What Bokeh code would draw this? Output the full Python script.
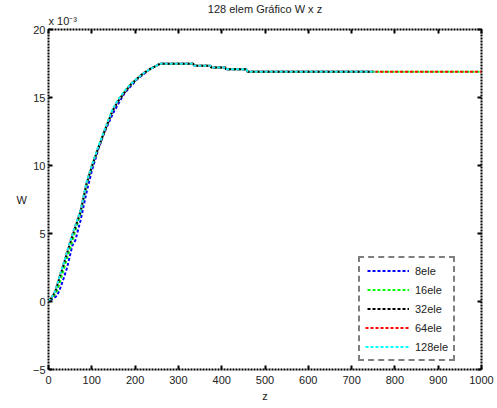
from bokeh.plotting import figure
from bokeh.models import Range1d, LinearAxis, FixedTicker, Legend, LegendItem, Title
from bokeh.embed import file_html
from bokeh.resources import INLINE

# W values are in units of 10^-3
z_8 = [0, 10, 20, 28, 36, 43, 55, 62, 74, 89, 100, 115, 130, 150, 175, 205, 235, 258, 334, 336, 374, 376, 408, 410, 457, 460, 750]
w_8 = [0, 0.2, 0.44, 1.05, 1.8, 2.5, 4.1, 4.5, 5.96, 8.2, 9.6, 11.2, 12.5, 13.9, 15.3, 16.35, 17.1, 17.49, 17.49, 17.34, 17.34, 17.2, 17.2, 17.07, 17.07, 16.9, 16.9]

z_16 = [0, 10, 20, 30, 40, 50, 60, 74, 88, 100, 114, 128, 147, 160, 174, 190, 205, 220, 235, 250, 258, 334, 336, 374, 376, 408, 410, 457, 460, 1000]
w_16 = [0, 0.3, 0.8, 1.8, 2.9, 3.9, 5.0, 6.5, 8.6, 9.9, 11.2, 12.4, 14.0, 14.7, 15.35, 15.95, 16.4, 16.8, 17.1, 17.35, 17.49, 17.49, 17.34, 17.34, 17.2, 17.2, 17.07, 17.07, 16.9, 16.9]

z_32 = [0, 8, 16, 25, 35, 46, 58, 74, 88, 100, 114, 128, 147, 160, 174, 190, 205, 220, 235, 250, 258, 334, 336, 374, 376, 408, 410, 457, 460, 750]
w_32 = [0, 0.3, 0.75, 1.7, 2.7, 3.9, 5.1, 6.6, 8.7, 9.9, 11.2, 12.4, 13.95, 14.7, 15.3, 15.95, 16.4, 16.8, 17.1, 17.35, 17.49, 17.49, 17.34, 17.34, 17.2, 17.2, 17.07, 17.07, 16.9, 16.9]

z_64 = [0, 8, 16, 25, 35, 46, 58, 74, 88, 100, 114, 128, 147, 160, 174, 190, 205, 220, 235, 250, 258, 334, 336, 374, 376, 408, 410, 457, 460, 1000]
w_64 = [0, 0.35, 0.8, 1.8, 2.8, 4.0, 5.2, 6.7, 8.75, 10.0, 11.25, 12.45, 14.0, 14.75, 15.35, 16.0, 16.4, 16.8, 17.1, 17.35, 17.49, 17.49, 17.34, 17.34, 17.2, 17.2, 17.07, 17.07, 16.9, 16.9]

z_128 = [0, 8, 16, 25, 35, 46, 58, 74, 88, 100, 114, 128, 147, 160, 174, 190, 205, 220, 235, 250, 258, 334, 336, 374, 376, 408, 410, 457, 460, 755]
w_128 = [0, 0.35, 0.8, 1.8, 2.8, 4.0, 5.2, 6.7, 8.8, 10.0, 11.3, 12.5, 14.05, 14.8, 15.4, 16.0, 16.4, 16.8, 17.1, 17.35, 17.49, 17.49, 17.34, 17.34, 17.2, 17.2, 17.07, 17.07, 16.9, 16.9]

series_names = ["8ele", "16ele", "32ele", "64ele", "128ele"]
series_colors = ["#0000ff", "#00ff00", "#000000", "#ff0000", "#00ffff"]
series_z = [z_8, z_16, z_32, z_64, z_128]
series_w = [w_8, w_16, w_32, w_64, w_128]
dash_offsets = [3, 3, 3, 0, 0]

x_ticks = [0, 100, 200, 300, 400, 500, 600, 700, 800, 900, 1000]
y_ticks = [-5, 0, 5, 10, 15, 20]

FONT = "Liberation Sans"

p = figure(width=497, height=408, output_backend="svg", toolbar_location=None,
           x_range=Range1d(0, 1000), y_range=Range1d(-5, 20),
           min_border_left=48, min_border_right=16, min_border_top=29, min_border_bottom=39,
           x_axis_label="z", y_axis_label="W")
p.background_fill_color = "white"
p.border_fill_color = "white"
p.xgrid.visible = False
p.ygrid.visible = False
p.outline_line_color = "black"
p.outline_line_width = 2
p.outline_line_dash = "2 1"

p.title.text = "128 elem Gráfico W x z"
p.title.align = "center"
p.title.text_font = FONT
p.title.text_font_size = "11px"
p.title.text_font_style = "normal"
p.title.text_color = "#222222"
p.title.standoff = -9

for ax in [p.xaxis[0], p.yaxis[0]]:
    ax.axis_line_color = None
    ax.major_tick_in = 4
    ax.major_tick_out = 0
    ax.major_tick_line_width = 2
    ax.minor_tick_line_color = None
    ax.major_label_text_font = FONT
    ax.major_label_text_font_size = "11px"
    ax.major_label_text_color = "#222222"
    ax.axis_label_text_font = FONT
    ax.axis_label_text_font_size = "11px"
    ax.axis_label_text_font_style = "normal"
    ax.axis_label_text_color = "#222222"

p.xaxis[0].ticker = FixedTicker(ticks=x_ticks)
p.yaxis[0].ticker = FixedTicker(ticks=y_ticks)
p.xaxis[0].major_label_standoff = 6
p.xaxis[0].axis_label_standoff = 3
p.yaxis[0].major_label_standoff = 3
p.yaxis[0].axis_label_standoff = 3
p.yaxis[0].axis_label_orientation = "horizontal"

top = LinearAxis(ticker=FixedTicker(ticks=x_ticks), axis_line_color=None, major_tick_in=4,
                 major_tick_out=0, major_tick_line_width=2, minor_tick_line_color=None,
                 major_label_overrides={t: "" for t in x_ticks},
                 major_label_text_font_size="1px", major_label_standoff=0)
right = LinearAxis(ticker=FixedTicker(ticks=y_ticks), axis_line_color=None, major_tick_in=4,
                   major_tick_out=0, major_tick_line_width=2, minor_tick_line_color=None,
                   major_label_overrides={t: "" for t in y_ticks},
                   major_label_text_font_size="1px", major_label_standoff=0)
p.add_layout(top, "above")
p.add_layout(right, "right")

exp_title = Title(text="x 10⁻³", align="left", text_font=FONT, text_font_size="11px",
                  text_font_style="normal", text_color="#222222", standoff=5, offset=0)
p.add_layout(exp_title, "above")

items = []
for name, col, zs, ws, off in zip(series_names, series_colors, series_z, series_w, dash_offsets):
    r = p.line(zs, ws, line_color=col, line_width=2, line_dash="3 2", line_dash_offset=off)
    items.append(LegendItem(label=name, renderers=[r]))

legend = Legend(items=items, location=(310, 8), orientation="vertical")
legend.label_text_font = FONT
legend.label_text_font_size = "11px"
legend.label_text_color = "#222222"
legend.glyph_width = 44
legend.glyph_height = 15
legend.label_height = 15
legend.label_standoff = 6
legend.spacing = 4
legend.padding = 5
legend.margin = 0
legend.border_line_color = "black"
legend.border_line_width = 2
legend.border_line_dash = "2 1"
legend.background_fill_color = "white"
legend.background_fill_alpha = 1
p.add_layout(legend, "center")

open("out.html", "w").write(file_html(p, INLINE))
